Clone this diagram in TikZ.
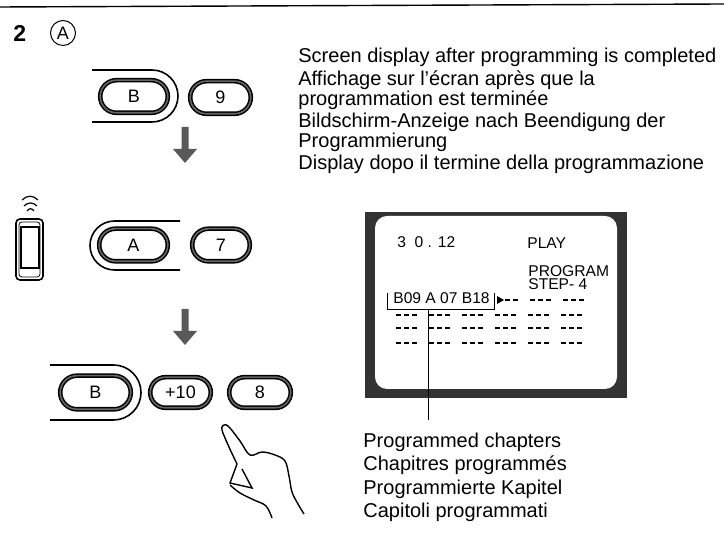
\documentclass[tikz,border=0pt]{standalone}
\usepackage{fontspec}
\setmainfont{Liberation Sans}
\usetikzlibrary{shapes.misc}

\tikzset{
  key/.style={rounded rectangle, draw, line width=0.75pt, double=black!60,
    double distance=0.8pt, minimum height=16.3pt, inner sep=0pt,
    font=\fontsize{9}{9}\selectfont},
  rim/.style={line width=0.8pt},
  caption/.style={anchor=base west, inner sep=0pt, font=\fontsize{10}{10}\selectfont},
  scrtext/.style={anchor=base west, inner sep=0pt, font=\fontsize{7.8}{8}\selectfont},
  scrdash/.style={line width=0.6pt,
    dash pattern=on 2.5pt off 1.5pt on 2.5pt off 1.5pt on 2.5pt off 6pt},
  stepdown/.style={fill=black!65},
}

\begin{document}
\begin{tikzpicture}[x=0.5pt,y=-0.5pt]
	\useasboundingbox (0,0) rectangle (724,549);

	% rule at the top
	\draw[line width=0.7pt] (0,7) -- (724,4);

	% heading
	\node[anchor=base west, inner sep=0pt, font=\bfseries\fontsize{11.5}{11.5}\selectfont] (stepnum) at (13,42) {2};
	\node[circle, draw, line width=0.5pt, minimum size=12.5pt, inner sep=0pt, font=\fontsize{9}{9}\selectfont] (modeA) at (63,33) {A};

	%Keys, first press
	\draw[rim] (92,70) -- (152,70) arc(-90:90:26) -- (92,122);
	\node[key, minimum width=33.8pt] (keyB) at (134,96.5) {B};
	\node[key, minimum width=30.3pt] (key9) at (220.5,97.5) {9};

	%Keys, second press
	\draw[rim] (180,221) -- (114.5,221) arc(-90:-270:24.5) -- (180,270);
	\node[key, minimum width=34.3pt] (keyA) at (133.5,245) {A};
	\node[key, minimum width=28.8pt] (key7) at (221,245) {7};

	%Keys, third press
	\draw[rim] (50,365) -- (113.5,365) arc(-90:90:27.5) -- (50,420);
	\node[key, minimum width=35.3pt, minimum height=16.8pt] (keyBb) at (95.5,392.5) {B};
	\node[key, minimum width=30.3pt, minimum height=15.3pt] (keyplus) at (180.5,392.5) {+10};
	\node[key, minimum width=30.8pt, minimum height=15.3pt] (key8) at (260,392.5) {8};

	% arrows between the presses
	\foreach \ay in {127,309}
		\fill[stepdown] (181.5,\ay) -- (188.5,\ay) -- (188.5,\ay+22) -- (197,\ay+22)
			-- (185,\ay+36) -- (173,\ay+22) -- (181.5,\ay+22) -- cycle;

	% remote control
	\draw[line width=0.8pt, rounded corners=2pt] (16,219) rectangle (43,280);
	\draw[line width=0.4pt, rounded corners=1.5pt] (19,222) rectangle (40,277);
	\draw[line width=0.6pt] (21,227) rectangle (39,268);
	\draw[line width=0.6pt] (22,200) .. controls (27,195) and (33,195) .. (38,200);
	\draw[line width=0.6pt] (24,206) .. controls (28,202) and (33,202) .. (37,206);
	\draw[line width=0.6pt] (27,211) .. controls (29,208) and (32,208) .. (34,211);

	% hand
	\draw[line width=0.7pt] plot[smooth, tension=0.6] coordinates {(237,464) (229,447) (222,430) (224,425) (229,427) (240,441) (250,455) (262,452) (275,455) (285,461) (289,476) (292,492) (298,504) (304,514)};
	\draw[line width=0.7pt] (237,464) -- (230,483) -- (252,488) -- (242,469);
	\draw[line width=0.7pt] plot[smooth, tension=0.6] coordinates {(230,485) (240,493) (254,500) (266,506) (272,518)};

	% notes at the top right
	\foreach \ty/\tx [count=\i] in {63/Screen display after programming is completed,
		86/Affichage sur l’écran après que la,
		106/programmation est terminée,
		128/Bildschirm-Anzeige nach Beendigung der,
		148/Programmierung,
		170/Display dopo il termine della programmazione}
		\node[caption] (note\i) at (298,\ty) {\tx};

	% TV screen
	\fill[black!80] (365,212) rectangle (627,398);
	\fill[white, rounded corners=6pt] (375,216) rectangle (617,389);
	\node[scrtext] (clock) at (397,248) {3\ \ 0 . 12};
	\node[scrtext] (playmode) at (527,249) {PLAY};
	\node[scrtext] (progmode) at (528,277) {PROGRAM};
	\node[scrtext] (stepno) at (528,290) {STEP- 4};
	\node[scrtext] (progchap) at (393,304) {B09 A 07 B18};
	\draw[line width=0.5pt] (387,293) -- (387,310) -- (494,310) -- (494,293);
	\fill (497,296) -- (504,300) -- (497,304) -- cycle;
	\draw[scrdash, dash phase=4pt] (505,300) -- (592,300);
	\foreach \ry in {315,328,343}
		\draw[scrdash] (396,\ry) -- (592,\ry);

	% pointer to the caption
	\coordinate (ptrtop) at (428,310);
	\coordinate (ptrend) at (428,420);
	\draw[line width=0.5pt] (ptrtop) -- (ptrend);

	\foreach \ty/\tx [count=\i] in {448/Programmed chapters,
		471/Chapitres programmés,
		495/Programmierte Kapitel,
		518/Capitoli programmati}
		\node[caption] (chap\i) at (363,\ty) {\tx};

\end{tikzpicture}
\end{document}
